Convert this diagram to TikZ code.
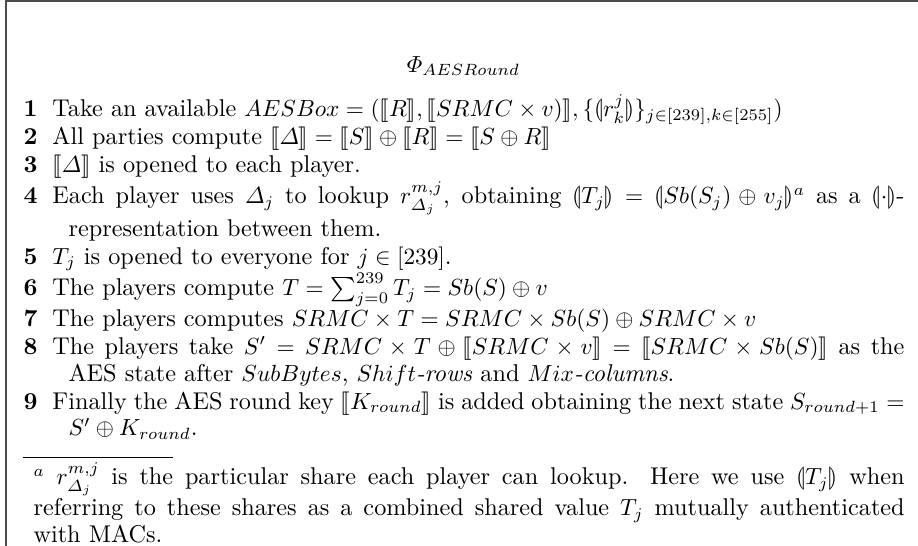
\documentclass[tikz,border=0pt]{standalone}
\usepackage{amsmath,amssymb}
\usepackage{stmaryrd}
\usetikzlibrary{positioning}

\newcommand{\bodyfont}{\fontsize{10.4}{11.55}\selectfont}
\newcommand{\linestrut}{\rule[-3.45pt]{0pt}{11.55pt}}

\begin{document}
\begin{tikzpicture}[
    x=1pt, y=1pt,
    stepbox/.style={anchor=north west, inner sep=0pt, text width=365.5pt, align=justify, font=\bodyfont,
        execute at begin node={\linestrut\hangindent=6.9pt\hangafter=1\relax}, execute at end node={\linestrut}},
    numbox/.style={anchor=base west, inner sep=0pt, font=\bodyfont\bfseries},
    fnbox/.style={anchor=north west, inner sep=0pt, text width=373.7pt, align=justify, font=\bodyfont,
        execute at begin node={\linestrut}, execute at end node={\linestrut}},
    frame/.style={draw=black!70, line width=0.7pt},
    fnrule/.style={draw, line width=0.4pt}
]
    \useasboundingbox (0,0) rectangle (393.8,-234.2);
    % Frame (cut at right and bottom)
    \draw[frame] (2.6,-240) |- (400,-0.4);

    % Title
    \node[inner sep=0pt, anchor=base, font=\bodyfont] (title) at (198.8,-30.9) {$\varPhi_{AESRound}$};

    % Steps
    \node[stepbox] (s1) at (22.3,-40.4) {Take an available $AESBox = (\llbracket R\rrbracket, \llbracket SRMC \times v)\rrbracket, \{\llparenthesis r^j_k \rrparenthesis\}_{j\in[239],k\in[255]})$};
    \node[stepbox, below=0pt of s1.south west, anchor=north west] (s2) {All parties compute $\llbracket \varDelta\rrbracket = \llbracket S\rrbracket \oplus \llbracket R\rrbracket = \llbracket S \oplus R\rrbracket$};
    \node[stepbox, below=0pt of s2.south west, anchor=north west] (s3) {$\llbracket \varDelta\rrbracket$ is opened to each player.};
    \node[stepbox, below=0pt of s3.south west, anchor=north west] (s4) {Each player uses $\varDelta_j$ to lookup $r^{m,j}_{\varDelta_j}$, obtaining $\llparenthesis T_j\rrparenthesis = \llparenthesis Sb(S_j) \oplus v_j\rrparenthesis^a$ as a $\llparenthesis\cdot\rrparenthesis$-representation between them.};
    \node[stepbox, below=0pt of s4.south west, anchor=north west] (s5) {$T_j$ is opened to everyone for $j \in [239]$.};
    \node[stepbox, below=0pt of s5.south west, anchor=north west] (s6) {The players compute $T = \sum_{j=0}^{239} T_j = Sb(S) \oplus v$};
    \node[stepbox, below=0pt of s6.south west, anchor=north west] (s7) {The players computes $SRMC \times T = SRMC \times Sb(S) \oplus SRMC \times v$};
    \node[stepbox, below=0pt of s7.south west, anchor=north west] (s8) {The players take $S' = SRMC \times T \oplus \llbracket SRMC \times v\rrbracket = \llbracket SRMC \times Sb(S)\rrbracket$ as the\linebreak AES state after $SubBytes$, $Shift$\textit{-rows} and $Mix$\textit{-columns}.};
    \node[stepbox, below=0pt of s8.south west, anchor=north west] (s9) {Finally the AES round key $\llbracket K_{round}\rrbracket$ is added obtaining the next state $S_{round+1} = S' \oplus K_{round}$.};

    % Step numbers
    \foreach \i in {1,...,9}
        \node[numbox] (n\i) at ([xshift=-12.4pt]s\i.base west) {\i};

    % Footnote
    \coordinate (fnl) at ([xshift=-12.4pt, yshift=-5.4pt]s9.south west);
    \coordinate (fnr) at ([xshift=64.3pt]fnl);
    \draw[fnrule] (fnl) -- (fnr);
    \node[fnbox] (fn) at ([xshift=4.3pt, yshift=-2.2pt]fnl) {$^a$\ $r^{m,j}_{\varDelta_j}$ is the particular share each player can lookup. Here we use $\llparenthesis T_j\rrparenthesis$ when referring to these shares as a combined shared value $T_j$ mutually authenticated with MACs.};
\end{tikzpicture}
\end{document}
